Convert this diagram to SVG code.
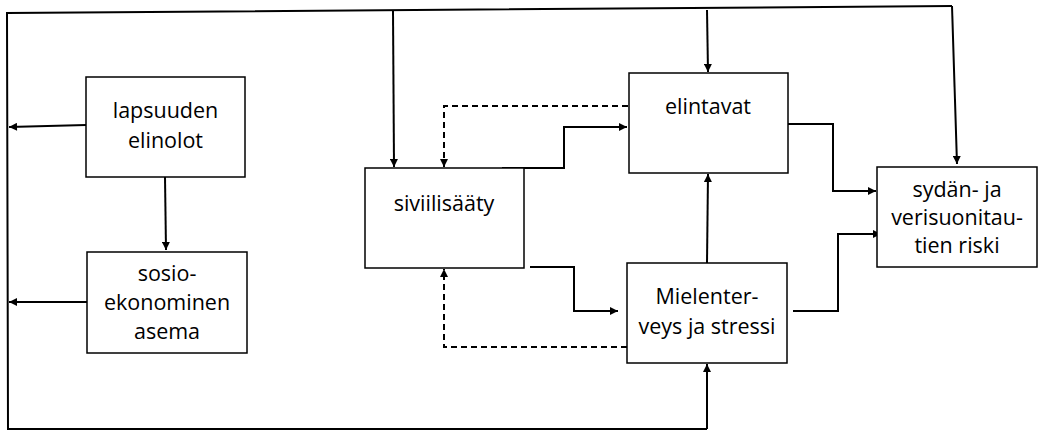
<svg xmlns="http://www.w3.org/2000/svg" width="1041" height="431" viewBox="0 0 1041 431">
<defs>
<marker id="ah" viewBox="0 0 10 10" refX="10" refY="5" markerWidth="9" markerHeight="8" markerUnits="userSpaceOnUse" orient="auto">
<path d="M0,0 L10,5 L0,10 z" fill="#000"/>
</marker>
<style>
.box{fill:#fff;stroke:#000;stroke-width:1.5}
.t{font-family:"Open Sans","Liberation Sans",sans-serif;font-size:21.5px;fill:#000;text-anchor:middle}
.c{fill:none;stroke:#000;stroke-width:2}
.a{marker-end:url(#ah)}
.d{stroke-dasharray:6,4}
</style>
</defs>
<g id="connectors">
<path class="c" d="M952,6 L7,13 L8,429 L707,429"/>
<path class="c a" d="M707,429 L707,364"/>
<path class="c a" d="M952,6 L957,164"/>
<path class="c a" d="M393,11 L394,167"/>
<path class="c a" d="M707,10 L708,72"/>
<path class="c a" d="M86,125 L9,127"/>
<path class="c a" d="M87,302 L9,302"/>
<path class="c a" d="M165,177 L166,250"/>
<path class="c d a" d="M628,106 L444,106 L444,167"/>
<path class="c a" d="M502,168 L564,168 L564,127 L627,127"/>
<path class="c a" d="M707,263 L708,174"/>
<path class="c a" d="M530,267 L574,267 L574,311 L618,311"/>
<path class="c d a" d="M627,347 L444,347 L444,269"/>
<path class="c a" d="M788,124 L833,124 L833,191 L876,191"/>
<path class="c a" d="M793,311 L838,311 L838,234 L881,234"/>
</g>
<g id="lapsuuden">
<rect class="box" x="86" y="77" width="159" height="100"/>
<text class="t" x="165.5" y="118">lapsuuden</text>
<text class="t" x="165.5" y="148">elinolot</text>
</g>
<g id="sosio">
<rect class="box" x="87" y="252" width="160" height="101"/>
<text class="t" x="167" y="281">sosio-</text>
<text class="t" x="167" y="310">ekonominen</text>
<text class="t" x="167" y="339">asema</text>
</g>
<g id="siviilisaaty">
<rect class="box" x="365" y="168" width="159" height="100"/>
<text class="t" x="444" y="211">siviilisääty</text>
</g>
<g id="elintavat">
<rect class="box" x="629" y="73" width="159" height="100"/>
<text class="t" x="708" y="114">elintavat</text>
</g>
<g id="mielenterveys">
<rect class="box" x="627" y="263" width="160" height="100"/>
<text class="t" x="707" y="304">Mielenter-</text>
<text class="t" x="707" y="334">veys ja stressi</text>
</g>
<g id="sydan">
<rect class="box" x="877" y="167" width="160" height="100"/>
<text class="t" x="957" y="197">sydän- ja</text>
<text class="t" x="957" y="225">verisuonitau-</text>
<text class="t" x="957" y="253">tien riski</text>
</g>
</svg>
